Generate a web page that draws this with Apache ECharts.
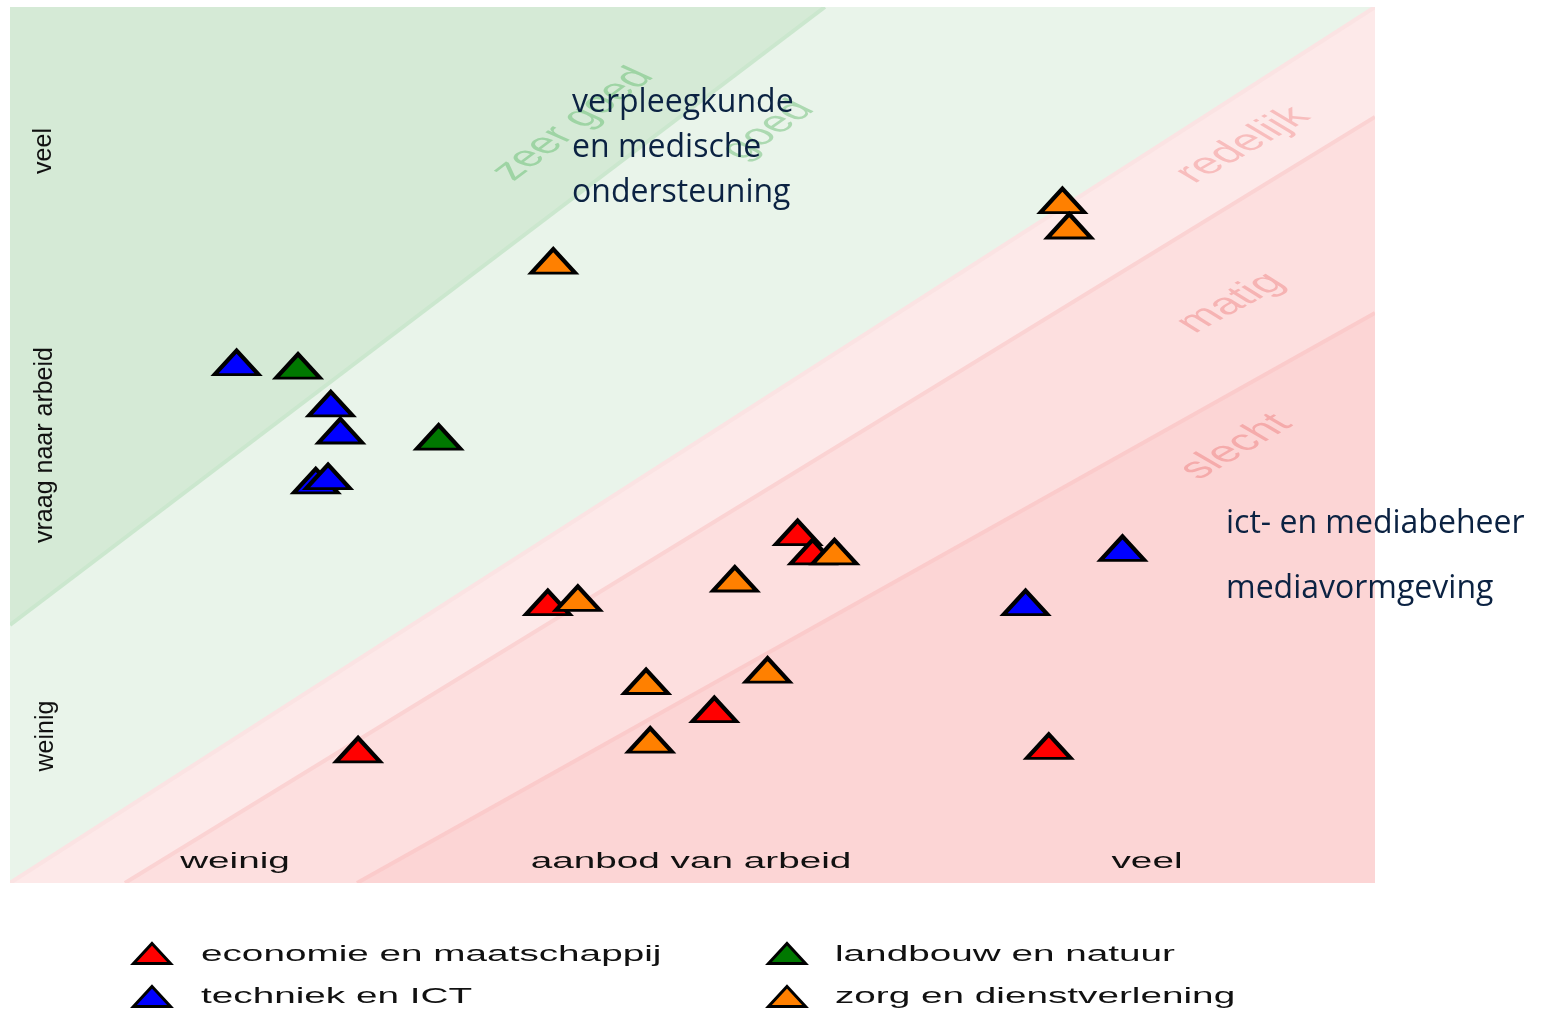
<!DOCTYPE html>
<html>
<head>
<meta charset="utf-8">
<script src="https://cdn.jsdelivr.net/npm/echarts@6/dist/echarts.min.js"></script>
<style>
  html, body { margin: 0; padding: 0; background: #ffffff; }
  #chart { width: 1548px; height: 1010px; }
</style>
</head>
<body>
<div id="chart"></div>
<script>
// ---- data (x: aanbod van arbeid 0..100, y: vraag naar arbeid 0..100) ----
const seriesNames = ['economie en maatschappij', 'techniek en ICT', 'landbouw en natuur', 'zorg en dienstverlening'];
const economie = [[57.7, 40.0], [58.8, 37.8], [39.4, 32.0], [51.6, 19.8], [25.5, 15.2], [76.1, 15.6]];
const techniek = [[16.6, 59.4], [23.5, 54.7], [24.2, 51.6], [22.4, 45.9], [23.3, 46.4], [74.4, 32.0], [81.5, 38.2]];
const landbouw = [[21.1, 59.0], [31.4, 50.9]];
const zorg = [[39.8, 71.0], [77.1, 77.9], [77.6, 75.0], [41.6, 32.5], [53.1, 34.7], [60.4, 37.8], [46.6, 23.0], [55.5, 24.3], [46.9, 16.3]];

// band boundaries (value space)
const bandNames = ['zeer goed', 'goed', 'redelijk', 'matig', 'slecht'];
const edgeZeerGoed = [[0, 29.45], [59.7, 100]];
const edgeGoed = [[0, 0], [100, 100]];
const edgeRedelijk = [[8.42, 0], [100, 87.44]];
const edgeMatig = [[25.42, 0], [100, 65.07]];
const bandPolygons = [
  [[0, 100], edgeZeerGoed[1], edgeZeerGoed[0]],
  [edgeZeerGoed[0], edgeZeerGoed[1], [100, 100], edgeGoed[0]],
  [edgeGoed[0], edgeGoed[1], edgeRedelijk[1], edgeRedelijk[0]],
  [edgeRedelijk[0], edgeRedelijk[1], edgeMatig[1], edgeMatig[0]],
  [edgeMatig[0], edgeMatig[1], [100, 0]]
];
const bandEdges = [null, edgeZeerGoed, edgeGoed, edgeRedelijk, edgeMatig];

// ---- styles ----
const bandFill = ['#d5ead6', '#e9f4ea', '#fde9e9', '#fddfdf', '#fcd5d5'];
const bandEdgeColor = [null, '#cbe7ce', '#fbe3e3', '#fbd3d3', '#fbcbcb'];
const markerColors = ['#ff0000', '#0000ff', '#007800', '#ff8000'];
const STRETCH = 1.72;
const sansFont = '"Liberation Sans", Arial, sans-serif';

const chart = echarts.init(document.getElementById('chart'), null, { renderer: 'canvas' });

function scatterSeries(name, data, color) {
  return {
    name: name,
    type: 'scatter',
    data: data,
    symbol: 'triangle',
    symbolSize: [44, 24],
    z: 5,
    itemStyle: { color: color, borderColor: '#000000', borderWidth: 3.8, opacity: 1 },
    emphasis: { disabled: true }
  };
}

function stretchedText(x, y, text, opts) {
  opts = opts || {};
  return {
    type: 'group',
    x: x, y: y,
    scaleX: STRETCH,
    silent: true,
    children: [{
      type: 'text',
      z: opts.z || 3,
      rotation: opts.rotation || 0,
      style: {
        text: text,
        font: (opts.size || 22) + 'px ' + sansFont,
        fill: opts.color || '#111111',
        align: opts.align || 'center',
        textAlign: opts.align || 'center',
        verticalAlign: 'middle',
        textVerticalAlign: 'middle'
      }
    }]
  };
}

function plainText(x, y, text, opts) {
  return {
    type: 'text',
    x: x, y: y,
    rotation: opts.rotation || 0,
    z: opts.z || 10,
    silent: true,
    style: {
      text: text,
      font: opts.font,
      fill: opts.color,
      lineHeight: opts.lineHeight,
      align: opts.align || 'left',
      textAlign: opts.align || 'left',
      verticalAlign: opts.valign || 'middle',
      textVerticalAlign: opts.valign || 'middle'
    }
  };
}

function legendItem(name, left, top) {
  return {
    data: [name],
    left: left, top: top, itemWidth: 37, itemHeight: 20, padding: 0,
    selectedMode: false, formatter: function () { return ''; },
    icon: 'triangle',
    itemStyle: { borderColor: '#000000', borderWidth: 3 }
  };
}

const deg = Math.PI / 180;
const navy = '#0b2242';
const calFont = '32px "Open Sans", "Noto Sans", sans-serif';

const option = {
  backgroundColor: '#ffffff',
  animation: false,
  grid: { left: 10, top: 7, width: 1365, height: 876, show: false },
  xAxis: { type: 'value', min: 0, max: 100, show: false, splitLine: { show: false } },
  yAxis: { type: 'value', min: 0, max: 100, show: false, splitLine: { show: false } },
  legend: [
    legendItem(seriesNames[0], 132, 942),
    legendItem(seriesNames[1], 132, 985),
    legendItem(seriesNames[2], 767, 942),
    legendItem(seriesNames[3], 767, 985)
  ],
  series: [
    {
      type: 'custom',
      name: 'banden',
      silent: true,
      z: 1,
      clip: true,
      data: bandNames.map(function (n, i) { return { name: n, value: [i] }; }),
      renderItem: function (params, api) {
        const i = params.dataIndex;
        const pts = bandPolygons[i].map(function (p) { return api.coord(p); });
        const children = [{ type: 'polygon', shape: { points: pts }, style: { fill: bandFill[i], stroke: null } }];
        if (bandEdges[i]) {
          children.push({
            type: 'polyline',
            shape: { points: bandEdges[i].map(function (p) { return api.coord(p); }) },
            style: { stroke: bandEdgeColor[i], lineWidth: 4, fill: null }
          });
        }
        return { type: 'group', children: children };
      }
    },
    scatterSeries(seriesNames[0], economie, markerColors[0]),
    scatterSeries(seriesNames[1], techniek, markerColors[1]),
    scatterSeries(seriesNames[2], landbouw, markerColors[2]),
    scatterSeries(seriesNames[3], zorg, markerColors[3])
  ],
  graphic: [
    // band labels
    stretchedText(573, 124, 'zeer goed', { size: 30, rotation: 52 * deg, color: '#9ed4a4', z: 3 }),
    stretchedText(768, 130, 'goed', { size: 30, rotation: 50 * deg, color: '#acd9b1', z: 3 }),
    stretchedText(1243, 145, 'redelijk', { size: 30, rotation: 44 * deg, color: '#f8bdbd', z: 3 }),
    stretchedText(1231, 303, 'matig', { size: 30, rotation: 43 * deg, color: '#f6b3b3', z: 3 }),
    stretchedText(1236, 447, 'slecht', { size: 30, rotation: 45 * deg, color: '#f5abab', z: 3 }),
    // x axis texts
    stretchedText(235, 862, 'weinig', { size: 22.5, z: 4 }),
    stretchedText(691, 862, 'aanbod van arbeid', { size: 22.5, z: 4 }),
    stretchedText(1147, 862, 'veel', { size: 22.5, z: 4 }),
    // y axis texts
    plainText(44, 151, 'veel', { rotation: 90 * deg, font: '25px ' + sansFont, color: '#111111', align: 'center' }),
    plainText(45, 445, 'vraag naar arbeid', { rotation: 90 * deg, font: '25px ' + sansFont, color: '#111111', align: 'center' }),
    plainText(46, 736, 'weinig', { rotation: 90 * deg, font: '25px ' + sansFont, color: '#111111', align: 'center' }),
    // annotations
    plainText(572, 80, 'verpleegkunde\nen medische\nondersteuning', { font: calFont, color: navy, lineHeight: 45, valign: 'top' }),
    plainText(1226, 524, 'ict- en mediabeheer', { font: calFont, color: navy }),
    plainText(1226, 589, 'mediavormgeving', { font: calFont, color: navy }),
    // legend labels
    stretchedText(201, 955, seriesNames[0], { size: 22.5, align: 'left', z: 4 }),
    stretchedText(201, 997, seriesNames[1], { size: 22.5, align: 'left', z: 4 }),
    stretchedText(835, 955, seriesNames[2], { size: 22.5, align: 'left', z: 4 }),
    stretchedText(835, 997, seriesNames[3], { size: 22.5, align: 'left', z: 4 })
  ]
};

chart.setOption(option);
</script>
</body>
</html>
